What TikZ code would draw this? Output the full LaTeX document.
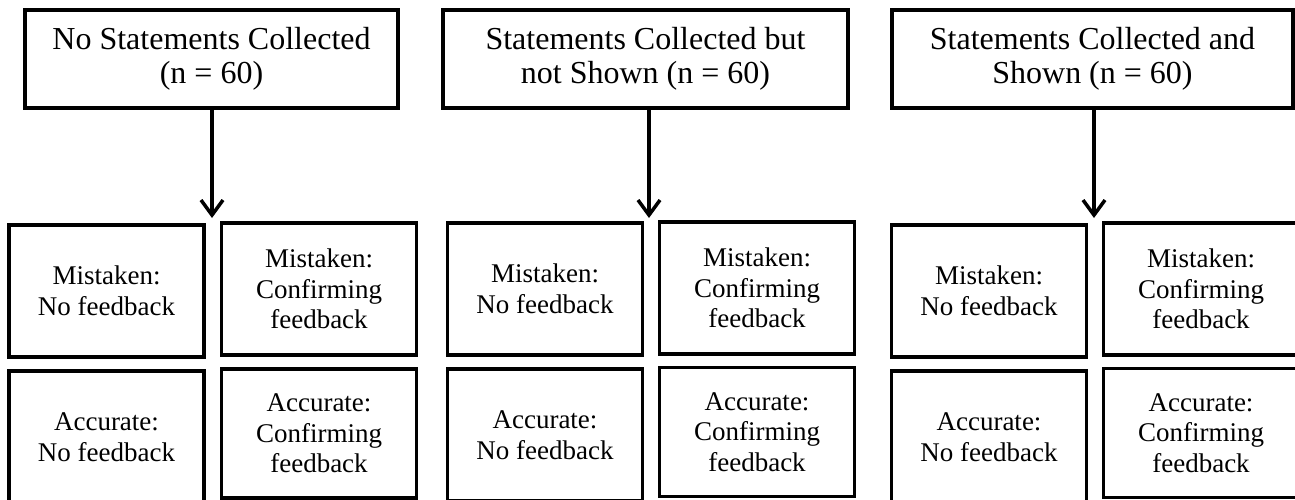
\documentclass[tikz,border=0pt]{standalone}
\usepackage{fontspec}
\setmainfont{Liberation Serif}
\usetikzlibrary{arrows.meta}
\begin{document}
\begin{tikzpicture}[x=1pt,y=-1pt,
  box/.style={draw, line width=3.5pt, align=center, inner sep=0pt},
  topbox/.style={box, minimum height=98pt, font=\fontsize{32}{34}\selectfont},
  cell/.style={box, minimum width=195pt, minimum height=132pt, font=\fontsize{27}{30.5}\selectfont},
  celld/.style={cell, minimum height=129pt},
  arr/.style={line width=3.5pt, -{Straight Barb[length=15pt,width=22pt]}}]
\useasboundingbox (0,0) rectangle (1295,500);
\clip (0,0) rectangle (1295,500);
% top boxes
\node[topbox, minimum width=373pt] (t1) at (211.5,59) {No Statements Collected\\(n = 60)};
\node[topbox, minimum width=405pt] (t2) at (645.5,59) {Statements Collected but\\not Shown (n = 60)};
\node[topbox, minimum width=401pt] (t3) at (1092.5,59) {Statements Collected and\\Shown (n = 60)};
% arrow ends
\coordinate (e1) at (212,218);
\coordinate (e2) at (649,218);
\coordinate (e3) at (1094,218);
\draw[arr] (e1 |- t1.south) -- (e1);
\draw[arr] (e2 |- t2.south) -- (e2);
\draw[arr] (e3 |- t3.south) -- (e3);
% panel 1
\node[cell] (a1) at (106.5,291) {Mistaken:\\No feedback};
\node[cell] (b1) at (319,289) {Mistaken:\\Confirming\\feedback};
\node[cell] (c1) at (106.5,437) {Accurate:\\No feedback};
\node[celld] (d1) at (319,433.5) {Accurate:\\Confirming\\feedback};
% panel 2
\node[cell] (a2) at (545,289) {Mistaken:\\No feedback};
\node[cell] (b2) at (757,288) {Mistaken:\\Confirming\\feedback};
\node[cell] (c2) at (545,435) {Accurate:\\No feedback};
\node[celld] (d2) at (757,432) {Accurate:\\Confirming\\feedback};
% panel 3
\node[cell] (a3) at (989,291) {Mistaken:\\No feedback};
\node[cell] (b3) at (1201,289) {Mistaken:\\Confirming\\feedback};
\node[cell] (c3) at (989,437) {Accurate:\\No feedback};
\node[celld] (d3) at (1201,433) {Accurate:\\Confirming\\feedback};
\end{tikzpicture}
\end{document}
